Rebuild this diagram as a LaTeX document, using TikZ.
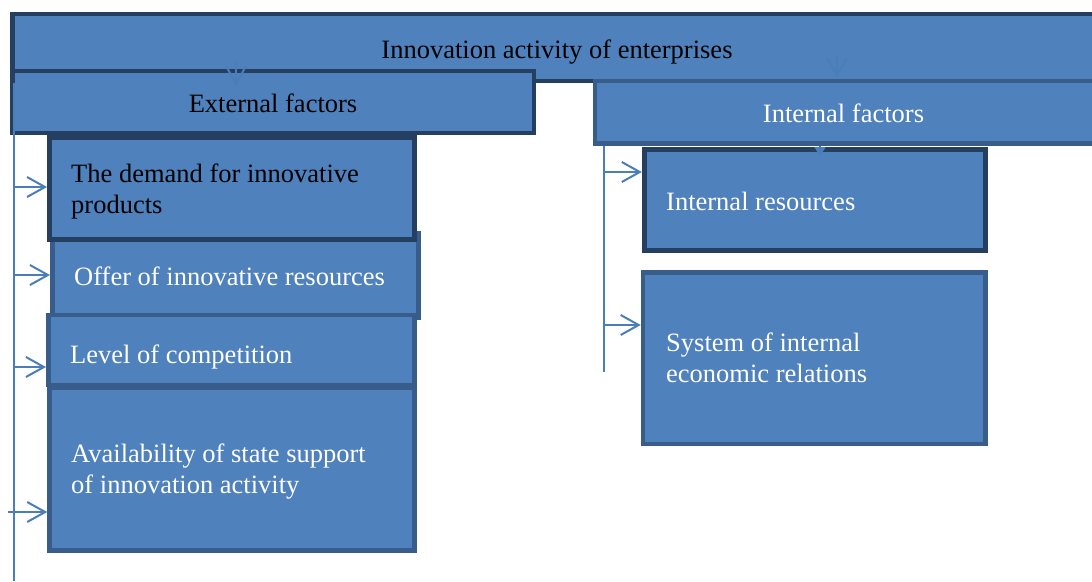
\documentclass[tikz,border=0pt]{standalone}
\usepackage{fontspec}
\setmainfont{Liberation Serif}
\usetikzlibrary{arrows.meta}
\definecolor{boxfill}{HTML}{4F81BD}
\definecolor{dkline}{HTML}{243F60}
\definecolor{mdline}{HTML}{385D8A}
\definecolor{connc}{HTML}{4A7EBB}
\tikzset{
  dkbox/.style={rectangle,fill=boxfill,draw=dkline,line width=4.8pt,inner sep=0pt},
  mdbox/.style={rectangle,fill=boxfill,draw=mdline,line width=4.5pt,inner sep=0pt},
  blacktxt/.style={anchor=base west,inner sep=0pt,text=black,align=left,
    font=\fontsize{26.5}{31}\selectfont},
  whitetxt/.style={blacktxt,text=white},
  conn/.style={draw=connc,line width=2pt,-{Straight Barb[length=18pt,width=20pt,line width=2pt]}},
  connline/.style={draw=connc,line width=2pt},
  smallarr/.style={draw=connc,line width=2pt,-{Triangle[length=9pt,width=11pt]}},
}
\begin{document}
\begin{tikzpicture}[x=1pt,y=-1pt]
\useasboundingbox (0,0) rectangle (1092,581);
\clip (0,0) rectangle (1092,581);
% top box
\node[dkbox,minimum width=1100,minimum height=67] (top) at (562.5,47.5) {};
\node[blacktxt,anchor=base] (toptxt) at (557,58) {Innovation activity of enterprises};
% external factors
\node[dkbox,minimum width=521.5,minimum height=62] (ext) at (273.25,102) {};
\node[blacktxt,anchor=base] (exttxt) at (273,112) {External factors};
% internal factors
\node[mdbox,minimum width=510,minimum height=62.5] (intf) at (850,112.25) {};
\node[whitetxt,anchor=base] (intftxt) at (843.5,122) {Internal factors};
% connectors from top box
\coordinate (a1s) at (236,62);
\coordinate (a1e) at (236,86);
\coordinate (a2s) at (837,55);
\coordinate (a2e) at (837,78);
\draw[conn] (a1s) -- (a1e);
\draw[conn] (a2s) -- (a2e);
% left boxes
\node[mdbox,minimum width=366,minimum height=85] (b2) at (235.25,275.5) {};
\node[dkbox,minimum width=365,minimum height=102] (b1) at (232,188.5) {};
\node[mdbox,minimum width=366,minimum height=70] (b3) at (231.25,350) {};
\node[mdbox,minimum width=365,minimum height=163] (b4) at (232,469) {};
\node[blacktxt] (t1) at (71,213) {The demand for innovative\\products};
\node[whitetxt] (t2) at (74,285) {Offer of innovative resources};
\node[whitetxt] (t3) at (70,363) {Level of competition};
\node[whitetxt] (t4) at (71,493) {Availability of state support\\of innovation activity};
% right boxes
\node[dkbox,minimum width=341,minimum height=101] (r1) at (814.75,200) {};
\node[mdbox,minimum width=342.5,minimum height=171.5] (r2) at (814.25,358.25) {};
\node[whitetxt] (tr1) at (666,210) {Internal resources};
\node[whitetxt] (tr2) at (666,382) {System of internal\\economic relations};
% left vertical connector
\coordinate (lvt) at (13.5,83);
\coordinate (lvb) at (13.5,581);
\draw[connline] (lvt) -- (lvb);
\draw[conn] (13.5,187) -- (b1.west |- 0,187);
\draw[conn] (13.5,275) -- (b2.west |- 0,275);
\draw[conn] (13.5,367) -- (b3.west |- 0,367);
\draw[conn] (8,512) -- (b4.west |- 0,512);
% right vertical connector
\coordinate (rvt) at (604,146);
\coordinate (rvb) at (604,372);
\draw[connline] (rvt) -- (rvb);
\draw[conn] (604,172) -- (r1.west |- 0,172);
\draw[conn] (604,325) -- (r2.west |- 0,325);
% small arrow from internal factors to internal resources
\draw[smallarr] (intf.south -| 820,0) -- (820,156);
\end{tikzpicture}
\end{document}
